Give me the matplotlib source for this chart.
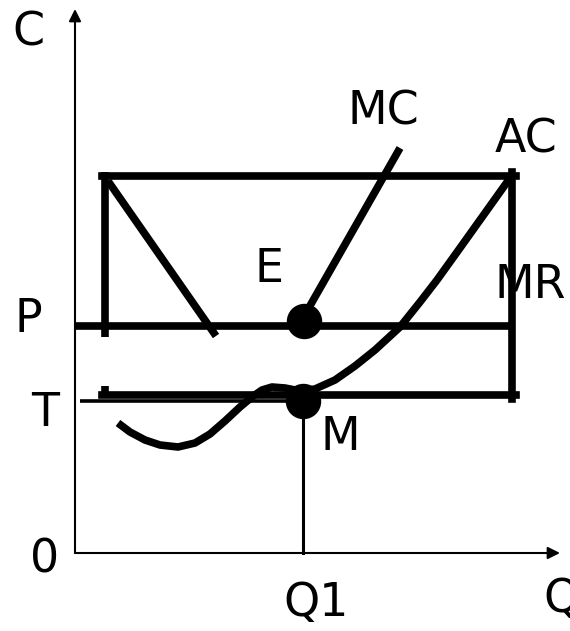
import matplotlib
matplotlib.use("Agg")
import matplotlib.pyplot as plt

# coordinates (pixel units, y downwards)
axis_origin = (75, 553)
y_axis_top = 9
x_axis_end = 560

box_x = [105, 512]
box_top = 176
box_bottom = 395
p_level = 326
t_level = 401
q1 = 303

left_side_x = [105, 105]
left_side_y = [172, 337]
stub_y = [386, 396]

falling_x = [108, 216]
falling_y = [181, 336]

mc_x = [303, 400]
mc_y = [318, 148]

ac_x = [118, 130, 145, 160, 178, 195, 210, 225, 240, 252, 262, 272, 285, 300,
        315, 335, 355, 375, 400, 420, 437, 460, 485, 510]
ac_y = [423, 432, 440, 445, 447, 443, 434, 421, 407, 397, 390, 387, 388, 391,
        389, 380, 366, 350, 327, 302, 280, 248, 213, 178]

dots_x = [304, 303]
dots_y = [321, 401]

labels = ["C", "MC", "AC", "MR", "E", "P", "T", "M", "0", "Q1", "Q"]
label_x = [28, 383, 526, 530, 269, 28, 45, 340, 45, 316, 543]
label_y = [33, 112, 140, 286, 270, 320, 413, 438, 560, 604, 600]
label_ha = ["center"] * 10 + ["left"]

fig = plt.figure(figsize=(5.7, 6.31), dpi=100)
ax = fig.add_axes([0, 0, 1, 1])
ax.set_xlim(0, 570)
ax.set_ylim(631, 0)
ax.axis("off")

thick = 5.5

# axes with arrows
ax.annotate("", xy=(axis_origin[0], y_axis_top), xytext=axis_origin,
            arrowprops=dict(arrowstyle="-|>", lw=1.5, color="black",
                            mutation_scale=18, shrinkA=0, shrinkB=0))
ax.annotate("", xy=(x_axis_end, axis_origin[1]), xytext=axis_origin,
            arrowprops=dict(arrowstyle="-|>", lw=1.5, color="black",
                            mutation_scale=18, shrinkA=0, shrinkB=0))

# rectangle (top, right, bottom) and left side pieces
ax.plot([box_x[0] - 3, box_x[1] + 4], [box_top, box_top], color="black", lw=thick)
ax.plot([box_x[1], box_x[1]], [box_top - 4, box_bottom + 4], color="black", lw=thick)
ax.plot([box_x[0] - 3, box_x[1] + 4], [box_bottom, box_bottom], color="black", lw=thick)
ax.plot(left_side_x, left_side_y, color="black", lw=thick, solid_capstyle="butt")
ax.plot(left_side_x, stub_y, color="black", lw=thick, solid_capstyle="butt")

# P line (MR)
ax.plot([axis_origin[0], box_x[1]], [p_level, p_level], color="black", lw=thick,
        solid_capstyle="butt")
# T line
ax.plot([80, q1], [t_level, t_level], color="black", lw=2.6, solid_capstyle="butt")
# Q1 drop line
ax.plot([q1, q1], [t_level, axis_origin[1]], color="black", lw=2.2)

# curves
ax.plot(falling_x, falling_y, color="black", lw=thick, solid_capstyle="butt")
ax.plot(mc_x, mc_y, color="black", lw=thick, solid_capstyle="butt")
ax.plot(ac_x, ac_y, color="black", lw=thick, solid_capstyle="butt",
        solid_joinstyle="round")

# points E and M
ax.scatter(dots_x, dots_y, s=600, color="black", zorder=5)

for txt, lx, ly, ha in zip(labels, label_x, label_y, label_ha):
    ax.text(lx, ly, txt, fontsize=33, ha=ha, va="center",
            family="DejaVu Sans", color="black")

fig.savefig("out.png", dpi=100)
